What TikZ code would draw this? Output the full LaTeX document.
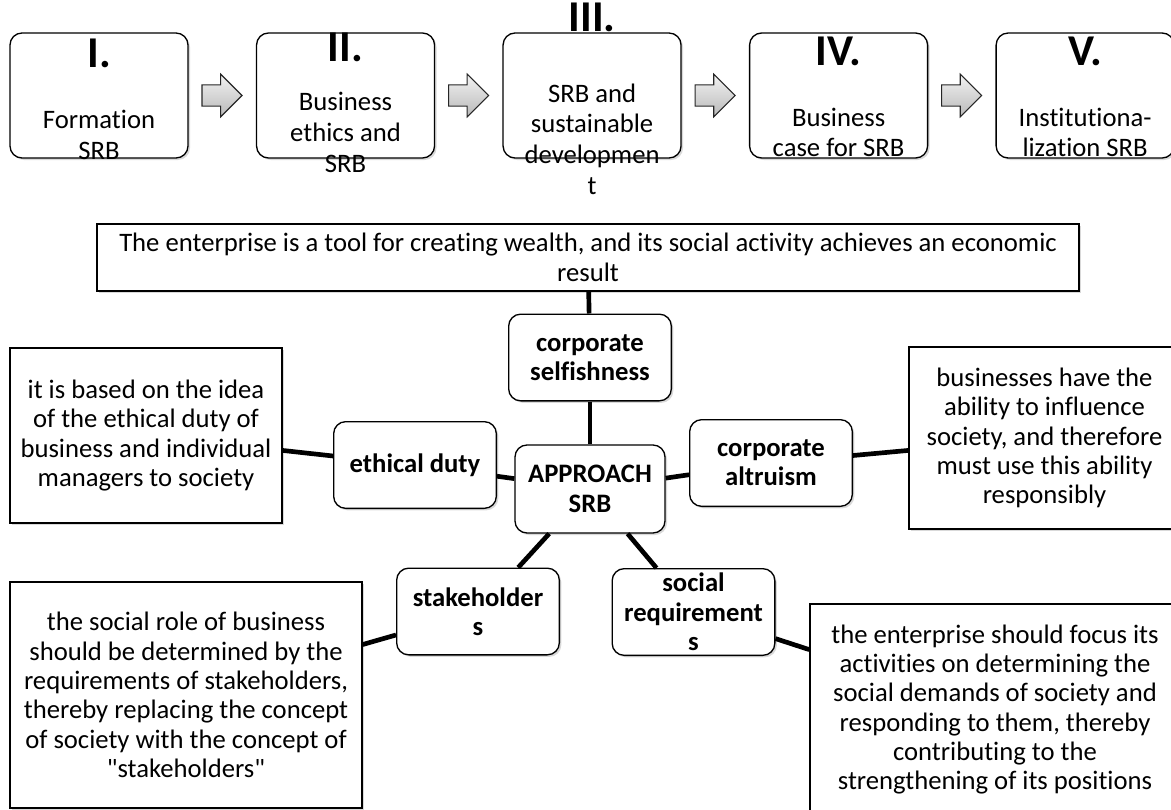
\documentclass[tikz,border=0pt]{standalone}
\usepackage{fontspec}
\setmainfont{Carlito}[Ligatures={NoCommon,TeXOff}]
\usetikzlibrary{positioning,shadows}

\begin{document}
\begin{tikzpicture}[x=0.75pt, y=-0.75pt,
  stage/.style={draw, rounded corners=9pt, line width=1pt, fill=white, minimum width=133.5pt, minimum height=93.75pt, drop shadow={shadow xshift=1.5pt, shadow yshift=-1.5pt, opacity=0.3}},
  stagenum/.style={inner sep=0pt, font=\bfseries\fontsize{33pt}{36pt}\selectfont},
  stagetext/.style={inner sep=0pt, align=center, font=\fontsize{20pt}{23pt}\selectfont},
  flowslot/.style={inner sep=0pt, minimum width=30pt, minimum height=32pt},
  flow/.style={draw=black!85, line width=0.8pt, top color=gray!10, bottom color=gray!55},
  key/.style={draw, rounded corners=9pt, line width=1pt, fill=white, align=center, inner xsep=2pt, inner ysep=0pt, minimum width=122pt, minimum height=65pt, font=\bfseries\fontsize{20pt}{22pt}\selectfont, drop shadow={shadow xshift=1.5pt, shadow yshift=-1.5pt, opacity=0.3}},
  note/.style={draw, line width=1pt, fill=white, align=center, inner sep=0pt, font=\fontsize{20pt}{22pt}\selectfont, drop shadow={shadow xshift=1.5pt, shadow yshift=-1.5pt, opacity=0.3}},
  link/.style={line width=3.5pt}]
  \useasboundingbox (0,0) rectangle (1171,810);

  % stages of SRB
  \node[stage] at (99,95.5) (s1) {};
  \node[flowslot, right=10pt of s1] (f1) {};
  \node[stage, right=10pt of f1] (s2) {};
  \node[flowslot, right=10pt of s2] (f2) {};
  \node[stage, right=10pt of f2] (s3) {};
  \node[flowslot, right=10pt of s3] (f3) {};
  \node[stage, right=10pt of f3] (s4) {};
  \node[flowslot, right=10pt of s4] (f4) {};
  \node[stage, right=10pt of f4] (s5) {};

  \foreach \f in {f1,f2,f3,f4}
    \draw[flow] ([yshift=8pt]\f.west) -- ++(14pt,0) -- ++(0,8pt) -- ++(16pt,-16pt)
      -- ++(-16pt,-16pt) -- ++(0,8pt) -- ++(-14pt,0) -- cycle;

  \node[stagenum] (n1) at ([yshift=-16pt]s1.north) {I.};
  \node[stagenum] (n2) at ([yshift=-11pt]s2.north) {II.};
  \node[stagenum] (n3) at ([yshift=11pt]s3.north) {III.};
  \node[stagenum] (n4) at ([yshift=-14pt]s4.north) {IV.};
  \node[stagenum] (n5) at ([yshift=-14pt]s5.north) {V.};

  \node[stagetext] (t1) at ([yshift=-77pt]s1.north) {Formation\\SRB};
  \node[stagetext] (t2) at ([yshift=-75pt]s2.north) {Business\\ethics and\\SRB};
  \node[stagetext] (t3) at ([yshift=-80pt]s3.north) {SRB and\\sustainable\\developmen\\t};
  \node[stagetext] (t4) at ([yshift=-75pt]s4.north) {Business\\case for SRB};
  \node[stagetext] (t5) at ([yshift=-75pt]s5.north) {Institutiona-\\lization SRB};

  % approaches
  \node[note, minimum width=736.5pt, minimum height=50.25pt] (wealth) at (588,257.5) {The enterprise is a tool for creating wealth, and its social activity achieves an economic\\result};
  \node[key] (selfish) at (590,357.5) {corporate\\selfishness};
  \node[key, minimum width=112.5pt, minimum height=66pt] (approach) at (590,489) {APPROACH\\SRB};
  \node[key] (duty) at (415,465) {ethical duty};
  \node[key] (altruism) at (771,463) {corporate\\altruism};
  \node[key] (stake) at (478,611.5) {stakeholder\\s};
  \node[key] (social) at (693.5,612) {social\\requirement\\s};

  \node[note, minimum width=204pt, minimum height=131.25pt] (dutynote) at (146,435.5) {it is based on the idea\\of the ethical duty of\\business and individual\\managers to society};
  \node[note, minimum width=203.25pt, minimum height=136.5pt] (altnote) at (1044.5,438) {businesses have the\\ability to influence\\society, and therefore\\must use this ability\\responsibly};
  \node[note, minimum width=264pt, minimum height=169.5pt] (stakenote) at (186,695) {the social role of business\\should be determined by the\\requirements of stakeholders,\\thereby replacing the concept\\of society with the concept of\\"stakeholders"};
  \node[note, minimum width=277.5pt, minimum height=158.25pt] (socialnote) at (995,709.5) {the enterprise should focus its\\activities on determining the\\social demands of society and\\responding to them, thereby\\contributing to the\\strengthening of its positions};

  \draw[link] (wealth) -- (selfish);
  \draw[link] (selfish) -- (approach);
  \draw[link] (approach) -- (duty);
  \draw[link] (approach) -- (altruism);
  \draw[link] (approach) -- (stake);
  \draw[link] (approach) -- (social);
  \draw[link] (duty) -- (dutynote);
  \draw[link] (altruism) -- (altnote);
  \draw[link] (stake) -- (stakenote);
  \draw[link] (social) -- (socialnote);
\end{tikzpicture}
\end{document}
